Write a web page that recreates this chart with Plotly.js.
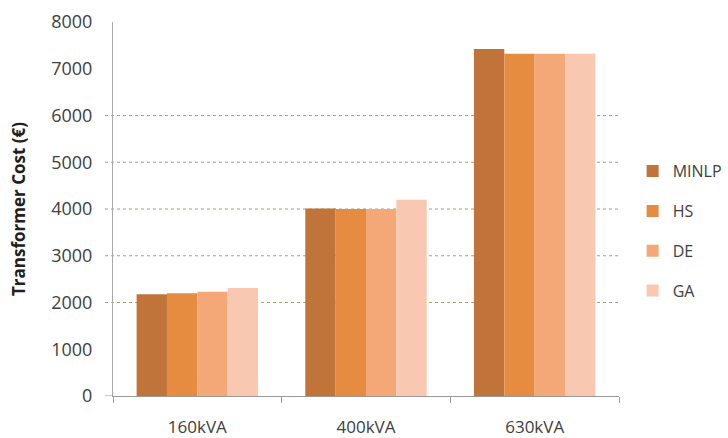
<!DOCTYPE html>
<html><head><meta charset="utf-8">
<script src="https://cdn.plot.ly/plotly-3.0.1.min.js"></script>
<style>body{margin:0;background:#fff}#c{width:728px;height:438px}</style>
</head><body><div id="c"></div>
<script>
const categories = ["160kVA", "400kVA", "630kVA"];
const seriesNames = ["MINLP", "HS", "DE", "GA"];
const minlp = [2175, 4010, 7420];
const hs = [2200, 4000, 7320];
const de = [2230, 4000, 7320];
const ga = [2310, 4200, 7320];
const yTicks = [0, 1000, 2000, 3000, 4000, 5000, 6000, 7000, 8000];
const gridValues = [2000, 3000, 4000, 5000, 6000];
const colors = ["#C1743A", "#E68C41", "#F5A877", "#F8C9B0"];

const values = [minlp, hs, de, ga];
const traces = values.map((v, i) => ({
  type: "bar", x: categories, y: v, name: seriesNames[i],
  legendgroup: "g" + i,
  marker: {color: colors[i], line: {width: 0}}
}));

const ext = -8 / 506;
const shapes = gridValues.map(g => ({
  type: "line", xref: "paper", yref: "y", x0: ext, x1: 1, y0: g, y1: g,
  line: {color: "#a8a070", width: 1, dash: "dot"}, layer: "below"
}));
shapes.push({type: "line", xref: "paper", yref: "y", x0: ext, x1: 0, y0: yTicks[0], y1: yTicks[0],
  line: {color: "#999", width: 1}});

const layout = {
  width: 728, height: 438,
  margin: {l: 113, r: 109, t: 22, b: 42},
  paper_bgcolor: "#fff", plot_bgcolor: "#fff",
  font: {family: "Open Sans, Liberation Sans, sans-serif", color: "#404040", size: 18},
  barmode: "group", bargap: 0.28, bargroupgap: 0,
  showlegend: true,
  legend: {xref: "container", yref: "container", x: 0.869, xanchor: "left", y: 0.648, yanchor: "top",
           tracegroupgap: 16, font: {size: 16, color: "#404040"}, itemwidth: 30},
  xaxis: {type: "category", showgrid: false, showline: true, linecolor: "#999", linewidth: 1,
          ticks: "outside", tickson: "boundaries", ticklen: 6, tickcolor: "#999",
          ticklabelstandoff: 16,
          tickfont: {size: 17, color: "#404040"}, automargin: false},
  yaxis: {range: [0, 8000], tickvals: yTicks, showgrid: false, showline: true,
          linecolor: "#aaa", linewidth: 1, zeroline: false, ticks: "", ticklabelstandoff: 16,
          tickfont: {size: 18, color: "#404040"}, automargin: false,
          title: {text: "<b>Transformer Cost (€)</b>", font: {size: 17, color: "#202020"}, standoff: 21}},
  shapes: shapes
};
Plotly.newPlot("c", traces, layout, {displayModeBar: false, staticPlot: true});
</script></body></html>
